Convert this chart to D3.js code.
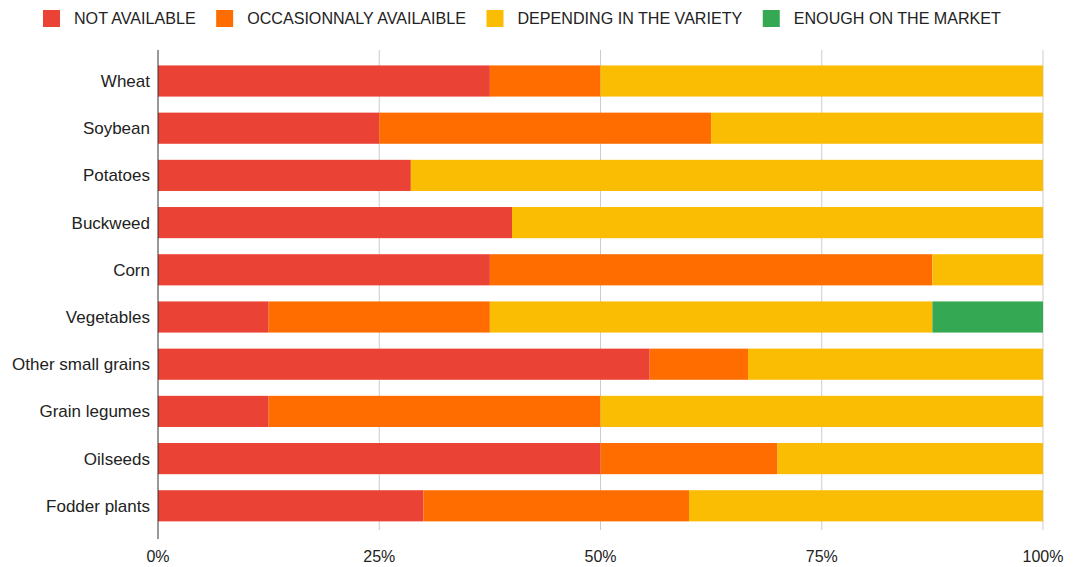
<!DOCTYPE html>
<html>
<head>
<meta charset="utf-8">
<script src="https://cdn.jsdelivr.net/npm/d3@7"></script>
<style>
  html, body { margin: 0; padding: 0; background: #fff; }
  svg { display: block; font-family: "Liberation Sans", Arial, sans-serif; }
</style>
</head>
<body>
<svg id="chart" width="1076" height="567"></svg>
<script>
// Crops and share of answers per availability level (percent)
const categories = ["Wheat", "Soybean", "Potatoes", "Buckweed", "Corn", "Vegetables",
  "Other small grains", "Grain legumes", "Oilseeds", "Fodder plants"];
const seriesNames = ["NOT AVAILABLE", "OCCASIONNALY AVAILAIBLE", "DEPENDING IN THE VARIETY", "ENOUGH ON THE MARKET"];
const notAvailable   = [37.5, 25,   28.57, 40, 37.5, 12.5, 55.56, 12.5, 50, 30];
const occasionnaly   = [12.5, 37.5, 0,     0,  50,   25,   11.11, 37.5, 20, 30];
const dependingVar   = [50,   37.5, 71.43, 60, 12.5, 50,   33.33, 50,   30, 40];
const enoughMarket   = [0,    0,    0,     0,  0,    12.5, 0,     0,    0,  0];
const tickValues = [0, 25, 50, 75, 100];
const tickLabels = ["0%", "25%", "50%", "75%", "100%"];
const colors = ["#ea4335", "#ff6d01", "#fbbc04", "#34a853"];

const svg = d3.select("#chart");
const plotLeft = 158, plotRight = 1043, plotTop = 57.4, plotBottom = 529.4;

const rows = categories.map((c, i) => ({
  cat: c,
  s0: notAvailable[i], s1: occasionnaly[i], s2: dependingVar[i], s3: enoughMarket[i]
}));
const keys = ["s0", "s1", "s2", "s3"];
const stacked = d3.stack().keys(keys)(rows);

const x = d3.scaleLinear().domain([0, 100]).range([plotLeft, plotRight]);
const y = d3.scaleBand().domain(categories).range([plotTop, plotBottom]).paddingInner(0.34).paddingOuter(0.17);

// vertical gridlines
svg.append("g").selectAll("line").data(tickValues.slice(1)).join("line")
  .attr("x1", d => x(d)).attr("x2", d => x(d))
  .attr("y1", 50).attr("y2", 530)
  .attr("stroke", "#cccccc").attr("stroke-width", 1);

// stacked bars
svg.append("g").selectAll("g").data(stacked).join("g")
  .attr("fill", (d, i) => colors[i])
  .selectAll("rect").data(d => d.filter(p => p[1] - p[0] > 0)).join("rect")
  .attr("x", d => x(d[0]))
  .attr("width", d => x(d[1]) - x(d[0]))
  .attr("y", d => y(d.data.cat))
  .attr("height", y.bandwidth());

// baseline axis
svg.append("line")
  .attr("x1", x(0)).attr("x2", x(0))
  .attr("y1", 50).attr("y2", 539)
  .attr("stroke", "#333333").attr("stroke-width", 1);

// category labels
svg.append("g").selectAll("text").data(categories).join("text")
  .attr("x", 150)
  .attr("y", d => y(d) + y.bandwidth() / 2)
  .attr("dy", "0.35em")
  .attr("text-anchor", "end")
  .attr("font-size", 17)
  .attr("fill", "#222222")
  .text(d => d);

// x tick labels
svg.append("g").selectAll("text").data(tickValues).join("text")
  .attr("x", d => x(d))
  .attr("y", 556)
  .attr("dy", "0.35em")
  .attr("text-anchor", "middle")
  .attr("font-size", 16)
  .attr("fill", "#222222")
  .text((d, i) => tickLabels[i]);

// legend
const legend = svg.append("g");
let lx = 43;
seriesNames.forEach((name, i) => {
  legend.append("rect")
    .attr("x", lx).attr("y", 10).attr("width", 17).attr("height", 17)
    .attr("fill", colors[i]);
  const t = legend.append("text")
    .attr("x", lx + 31).attr("y", 18.5).attr("dy", "0.35em")
    .attr("font-size", 16.1).attr("fill", "#222222")
    .text(name);
  lx += 31 + t.node().getComputedTextLength() + 20.5;
});
</script>
</body>
</html>
